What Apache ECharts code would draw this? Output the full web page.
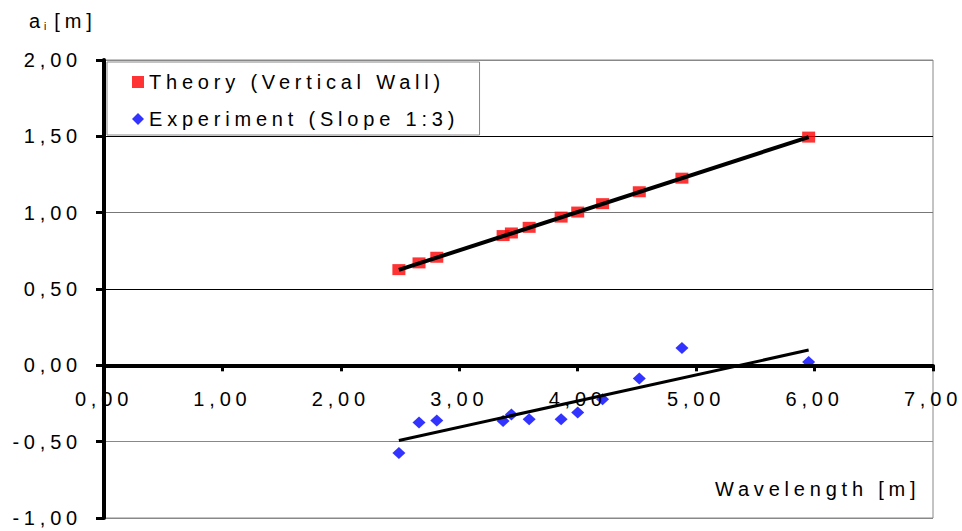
<!DOCTYPE html>
<html>
<head>
<meta charset="utf-8">
<script src="https://cdn.jsdelivr.net/npm/echarts@6/dist/echarts.min.js"></script>
<style>
  html, body { margin: 0; padding: 0; background: #fff; }
  #chart { width: 962px; height: 531px; }
  #chart text { letter-spacing: 4.8px; }
</style>
</head>
<body>
<div id="chart"></div>
<script>
// Wavelength [m] (x values, shared by both series)
var wavelength = [2.49, 2.66, 2.81, 3.37, 3.44, 3.59, 3.86, 4.00, 4.21, 4.52, 4.88, 5.95];
// Theory (Vertical Wall) a_i [m]
var theory = [0.627, 0.671, 0.708, 0.850, 0.867, 0.904, 0.971, 1.004, 1.059, 1.137, 1.226, 1.495];
// Experiment (Slope 1:3) a_i [m]
var experiment = [-0.575, -0.375, -0.362, -0.364, -0.322, -0.353, -0.353, -0.309, -0.222, -0.087, 0.113, 0.022];
// Trend line end points
var trendX = [2.49, 5.95];
var theoryTrend = [0.625, 1.495];
var experimentTrend = [-0.492, 0.100];
var seriesNames = ['Theory (Vertical Wall)', 'Experiment (Slope 1:3)'];
var xTitle = 'Wavelength [m]';

function pairs(xs, ys) { return xs.map(function (x, i) { return [x, ys[i]]; }); }
function fmt(v) { return v.toFixed(2).replace('.', ','); }

var chart = echarts.init(document.getElementById('chart'), null, { renderer: 'svg' });
var FONT = '"Liberation Sans", Arial, Helvetica, sans-serif';
var W = 962, H = 531, L = 104, R = 29, T = 60, B = 13;
// pixel row of y = 0 (used only to place the visible x axis grid)
var plotH = H - T - B;
var zeroY = T + plotH * (2 - 0) / (2 - (-1));

chart.setOption({
  animation: false,
  backgroundColor: '#fff',
  textStyle: { fontFamily: FONT, color: '#000' },
  grid: [
    { left: L, right: R, top: T, bottom: B, show: true, borderColor: '#888', borderWidth: 1, backgroundColor: 'transparent', containLabel: false, outerBoundsMode: 'none' },
    { left: L, right: R, top: T, height: zeroY - T, show: false, containLabel: false, outerBoundsMode: 'none' }
  ],
  xAxis: [
    { gridIndex: 0, type: 'value', min: 0, max: 7, interval: 1, show: false, splitLine: { show: false } },
    {
      gridIndex: 1, type: 'value', min: 0, max: 7, interval: 1, position: 'bottom',
      axisLine: { onZero: false, lineStyle: { color: '#000', width: 4 } },
      axisTick: { show: true, inside: false, length: 6, lineStyle: { color: '#000', width: 3 } },
      axisLabel: { formatter: fmt, fontSize: 20, color: '#000', margin: 24, fontFamily: FONT },
      splitLine: { show: false }, z: 5
    }
  ],
  yAxis: [
    {
      gridIndex: 0, type: 'value', min: -1, max: 2, interval: 0.5,
      axisLine: { show: true, onZero: false, lineStyle: { color: '#000', width: 4 } },
      axisTick: { show: true, inside: false, length: 8, lineStyle: { color: '#000', width: 3 } },
      axisLabel: { formatter: fmt, fontSize: 20, color: '#000', margin: 22, fontFamily: FONT },
      splitLine: { show: true, lineStyle: { color: ['#888', '#888', '#000', '#000', '#777', '#000', '#888'], width: 1 } }
    },
    { gridIndex: 1, type: 'value', min: 0, max: 2, show: false, splitLine: { show: false } }
  ],
  legend: {
    data: [
      { name: seriesNames[0], icon: 'rect' },
      { name: seriesNames[1], icon: 'diamond' }
    ],
    orient: 'vertical', left: 107, top: 62,
    padding: [10, 126, 6, 25], itemGap: 17, itemWidth: 12, itemHeight: 12, itemTextGap: 11,
    backgroundColor: '#fff', borderColor: '#888', borderWidth: 1,
    textStyle: { fontSize: 20, color: '#000', fontFamily: FONT }
  },
  graphic: [
    {
      type: 'text', left: 29, top: 11, z: 10,
      style: {
        text: '{a|a}{s|i}{b|[m]}',
        fill: '#000',
        rich: {
          a: { fontSize: 20, fontFamily: FONT, fill: '#000', lineHeight: 24, verticalAlign: 'bottom', padding: [0, 4, 0, 0] },
          s: { fontSize: 10, fontFamily: FONT, fill: '#000', lineHeight: 10, verticalAlign: 'bottom', padding: [0, 8, 0, 0] },
          b: { fontSize: 20, fontFamily: FONT, fill: '#000', lineHeight: 24, verticalAlign: 'bottom' }
        }
      }
    },
    {
      type: 'text', left: 715, top: 479, z: 10,
      style: { text: xTitle, fontSize: 20, fontFamily: FONT, fill: '#000' }
    }
  ],
  series: [
    {
      name: seriesNames[0], type: 'scatter', xAxisIndex: 0, yAxisIndex: 0, symbol: 'rect', symbolSize: [13, 11],
      itemStyle: { color: '#ff0000' }, data: pairs(wavelength, theory), z: 3
    },
    {
      name: seriesNames[1], type: 'scatter', xAxisIndex: 0, yAxisIndex: 0, symbol: 'diamond', symbolSize: [13, 12],
      itemStyle: { color: '#0000ff' }, data: pairs(wavelength, experiment), z: 3
    },
    {
      name: 'Theory trend', type: 'line', xAxisIndex: 0, yAxisIndex: 0, showSymbol: false, symbol: 'none',
      lineStyle: { color: '#000', width: 4 }, data: pairs(trendX, theoryTrend), z: 4, silent: true
    },
    {
      name: 'Experiment trend', type: 'line', xAxisIndex: 0, yAxisIndex: 0, showSymbol: false, symbol: 'none',
      lineStyle: { color: '#000', width: 3 }, data: pairs(trendX, experimentTrend), z: 4, silent: true
    }
  ]
});
</script>
</body>
</html>
